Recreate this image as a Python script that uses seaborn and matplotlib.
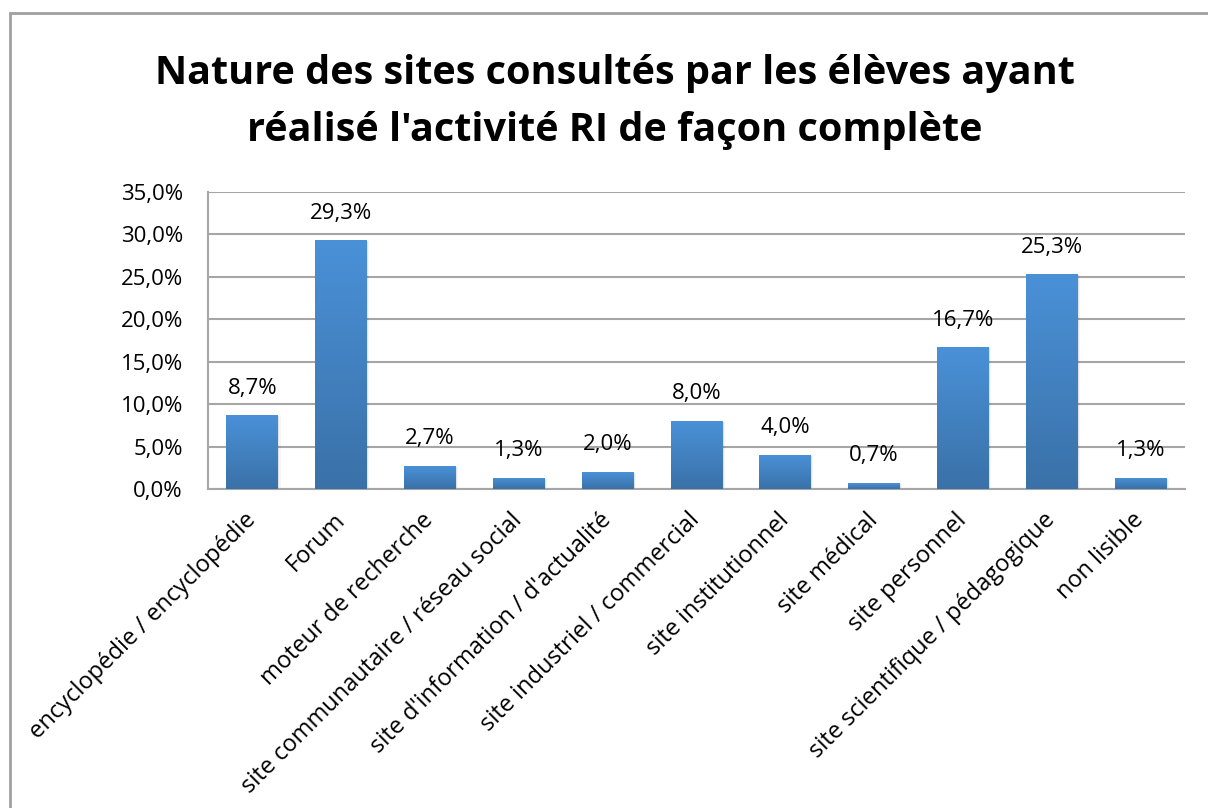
import matplotlib
matplotlib.use("Agg")
import matplotlib.pyplot as plt
import matplotlib.patches as mpatches
from matplotlib.colors import LinearSegmentedColormap
from matplotlib.ticker import FuncFormatter, MultipleLocator
import numpy as np
import pandas as pd
import seaborn as sns

categories = [
    "encyclopédie / encyclopédie",
    "Forum",
    "moteur de recherche",
    "site communautaire / réseau social",
    "site d'information / d'actualité",
    "site industriel / commercial",
    "site institutionnel",
    "site médical",
    "site personnel",
    "site scientifique / pédagogique",
    "non lisible",
]
shares = [8.7, 29.3, 2.7, 1.3, 2.0, 8.0, 4.0, 0.7, 16.7, 25.3, 1.3]
title = "Nature des sites consultés par les élèves ayant\nréalisé l'activité RI de façon complète"

sns.set_theme(style="white")
plt.rcParams["font.family"] = ["Open Sans", "DejaVu Sans"]

df = pd.DataFrame({"categorie": categories, "part": [v / 100 for v in shares]})

fig = plt.figure(figsize=(12.08, 8.08), dpi=100)
W, H = 1208, 808
ax = fig.add_axes([208 / W, 1 - 489 / H, (1185 - 208) / W, (489 - 192) / H])

sns.barplot(data=df, x="categorie", y="part", ax=ax, color="#4a8fd5",
            width=0.585, saturation=1, zorder=3)

ax.set_ylim(0, 0.35)
ax.set_xlim(-0.5, len(categories) - 0.5)
ax.yaxis.set_major_locator(MultipleLocator(0.05))
ax.yaxis.set_major_formatter(FuncFormatter(lambda v, _: f"{v * 100:.1f}%".replace(".", ",")))
ax.grid(axis="y", color="#a6a6a6", linewidth=1.5, zorder=0)
ax.grid(axis="x", visible=False)
for side in ("top", "right"):
    ax.spines[side].set_visible(False)
for side in ("left", "bottom"):
    ax.spines[side].set_color("#a6a6a6")
    ax.spines[side].set_linewidth(1.5)
ax.set_xlabel("")
ax.set_ylabel("")
ax.tick_params(axis="y", length=0, pad=18, labelsize=16, labelcolor="black")
ax.tick_params(axis="x", length=0, pad=20, labelsize=17, labelcolor="black")
plt.setp(ax.get_xticklabels(), rotation=45, ha="right", va="center", rotation_mode="anchor")

# vertical gradient fill for each bar, plus a soft drop shadow
grad = LinearSegmentedColormap.from_list("bar", ["#3a71a8", "#4a91d8"])
gimg = np.linspace(0, 1, 256).reshape(-1, 1)
for patch, val in zip(ax.patches, df["part"]):
    x0, y0 = patch.get_x(), patch.get_y()
    w, h = patch.get_width(), patch.get_height()
    for k, a in ((0.012, 0.07), (0.024, 0.04)):
        ax.add_patch(mpatches.Rectangle((x0 + k, y0), w, max(h - 0.001, 0),
                                        facecolor="#000000", alpha=a,
                                        edgecolor="none", zorder=2))
    patch.set_facecolor("none")
    patch.set_edgecolor("none")
    im = ax.imshow(gimg, cmap=grad, origin="lower", aspect="auto",
                   extent=(x0, x0 + w, y0, y0 + h), zorder=3)
    im.set_clip_path(patch)
    ax.annotate(f"{val * 100:.1f}%".replace(".", ","), (x0 + w / 2, y0 + h),
                xytext=(0, 12), textcoords="offset points", ha="center", va="bottom",
                fontsize=16, color="black")
ax.set_xlim(-0.5, len(categories) - 0.5)
ax.set_ylim(0, 0.35)

fig.text(615 / W, 1 - 102 / H, title, ha="center", va="center", fontsize=28.5,
         fontweight="bold", linespacing=1.6, color="black")

# chart frame
fig.patches.append(mpatches.Rectangle((10 / W, -0.1), 1.2, 1 - 13 / H + 0.1,
                                      transform=fig.transFigure, fill=False,
                                      edgecolor="#a0a0a0", linewidth=2))

fig.savefig("out.png", dpi=100, facecolor="white")
